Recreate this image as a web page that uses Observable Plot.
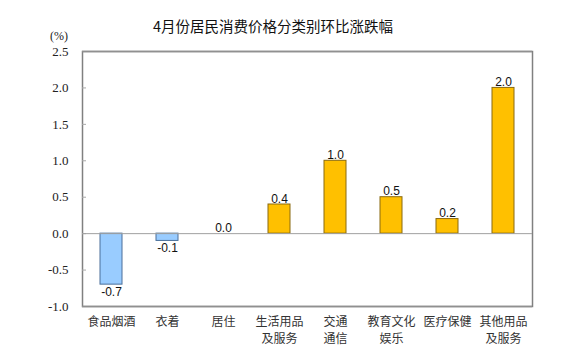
<!DOCTYPE html>
<html><head><meta charset="utf-8">
<script src="https://cdn.jsdelivr.net/npm/d3@7"></script>
<script src="https://cdn.jsdelivr.net/npm/@observablehq/plot@0.6"></script>
<style>
body{margin:0;background:#fff;}
#wrap{position:relative;width:565px;height:353px;}
#title{position:absolute;left:0;top:15px;width:546px;text-align:center;font-family:"Noto Sans CJK SC","Noto Sans",sans-serif;font-size:14.5px;color:#111;}
#unit{position:absolute;left:50px;top:29px;font-family:"Liberation Serif",serif;font-size:12px;color:#222;}
#chart{position:absolute;left:0;top:40px;}
</style></head>
<body><div id="wrap"><div id="title">4月份居民消费价格分类别环比涨跌幅</div><div id="unit">(%)</div><div id="chart"></div></div>
<script>
const categories = ["食品烟酒","衣着","居住","生活用品\n及服务","交通\n通信","教育文化\n娱乐","医疗保健","其他用品\n及服务"];
const values = [-0.7,-0.1,0.0,0.4,1.0,0.5,0.2,2.0];
const yTicks = [-1.0,-0.5,0,0.5,1.0,1.5,2.0,2.5];
const yMin = yTicks[0], yMax = yTicks[yTicks.length-1];
const data = categories.map((c,i)=>({c, v: values[i]}));
const plot = Plot.plot({
  width: 565, height: 313,
  marginTop: 11, marginBottom: 47, marginLeft: 82, marginRight: 33,
  x: {domain: categories, paddingInner: 0.6, paddingOuter: 0.3, label: null},
  y: {domain: [yMin, yMax], label: null},
  marks: [
    Plot.frame({stroke: "#808080", strokeWidth: 1.5}),
    Plot.axisY({ticks: yTicks, tickSize: 0, tickPadding: 14, tickFormat: d=>d.toFixed(1),
      fontFamily: "Liberation Serif", fontSize: 13, fill: "#222", label: null}),
    Plot.axisY({ticks: yTicks, tickSize: -4, text: null, stroke: "#a8a8a8", label: null}),
    Plot.axisX({tickSize: 0, tickPadding: 8, fontFamily: "Noto Sans CJK SC", fontSize: 12, fill: "#333", lineHeight: 1.4, label: null}),
    Plot.barY(data, {x: "c", y: "v", fill: d=>d.v<0?"#99CCFF":"#FFC000", stroke: d=>d.v<0?"#4a6f9a":"#8a6a10", strokeWidth: 1}),
    Plot.ruleY([0], {stroke: "#a0a0a0"}),
    Plot.ruleY([yMin, yMax], {stroke: "#909090", strokeWidth: 1.5}),
    Plot.text(data.filter(d=>d.v>=0), {x: "c", y: "v", text: d=>d.v.toFixed(1), dy: -2, lineAnchor: "bottom",
      fontFamily: "Liberation Sans", fontSize: 12, fill: "#111"}),
    Plot.text(data.filter(d=>d.v<0), {x: "c", y: "v", text: d=>d.v.toFixed(1), dy: 3, lineAnchor: "top",
      fontFamily: "Liberation Sans", fontSize: 12, fill: "#111"})
  ]
});
document.getElementById("chart").appendChild(plot);
</script></body></html>
